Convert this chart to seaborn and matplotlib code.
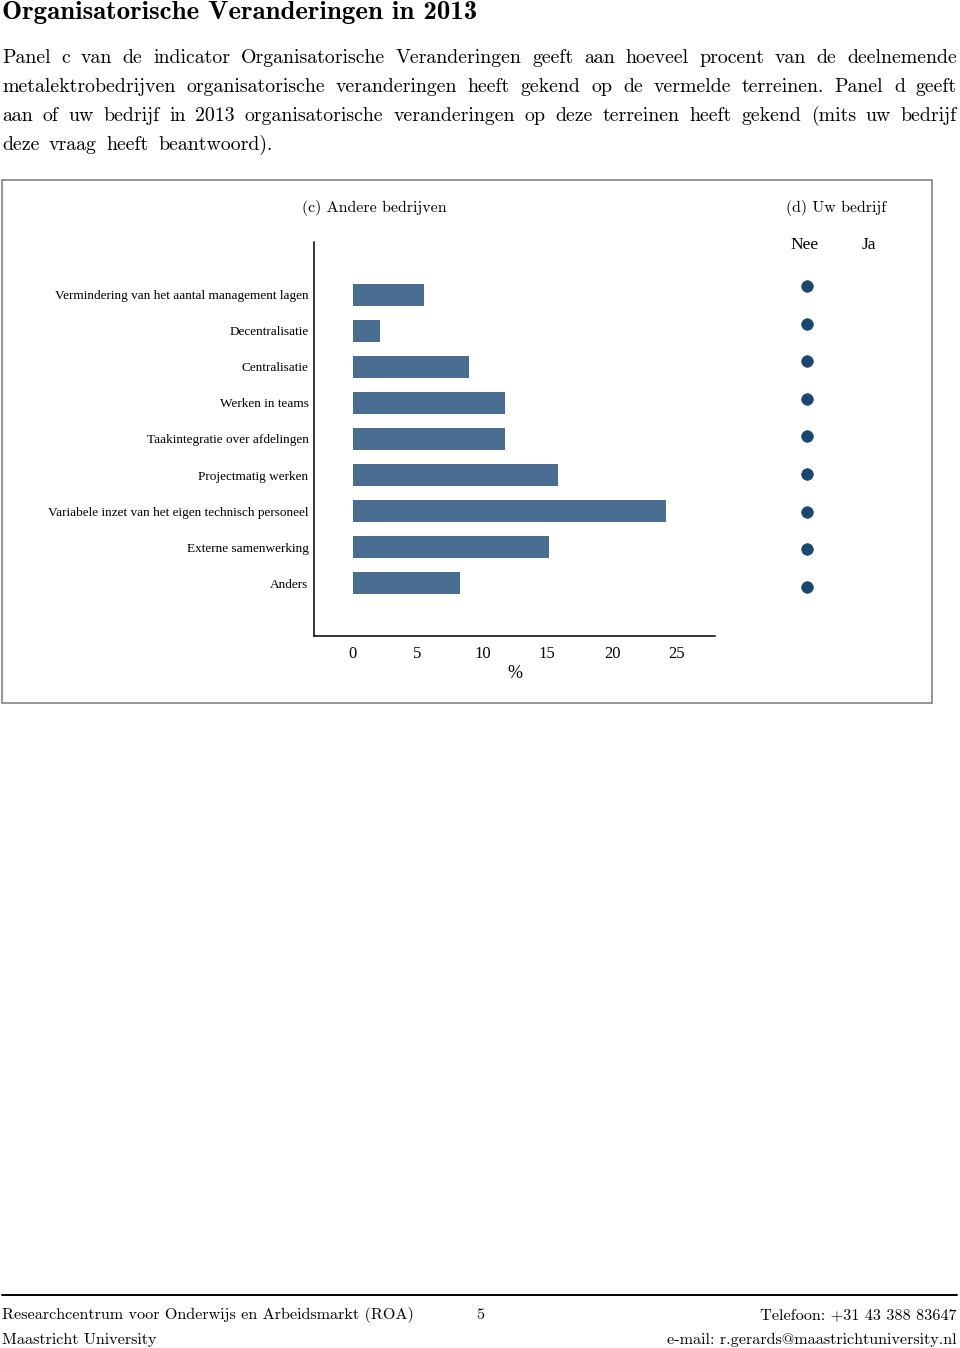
import matplotlib
matplotlib.use("Agg")
import matplotlib.pyplot as plt
import seaborn as sns
import pandas as pd
from matplotlib.patches import Rectangle
from matplotlib.lines import Line2D

# ---------------- data ----------------
categories = [
    "Vermindering van het aantal management lagen",
    "Decentralisatie",
    "Centralisatie",
    "Werken in teams",
    "Taakintegratie over afdelingen",
    "Projectmatig werken",
    "Variabele inzet van het eigen technisch personeel",
    "Externe samenwerking",
    "Anders",
]
percent_other = [5.52, 2.07, 8.97, 11.72, 11.72, 15.86, 24.14, 15.17, 8.28]
own_answer = ["Nee"] * 9
answer_levels = ["Nee", "Ja"]
x_ticks = [0, 5, 10, 15, 20, 25]

title = "Organisatorische Veranderingen in 2013"
paragraph_lines = [
    "Panel c van de indicator Organisatorische Veranderingen geeft aan hoeveel procent van de deelnemende",
    "metalektrobedrijven organisatorische veranderingen heeft gekend op de vermelde terreinen.  Panel d geeft",
    "aan of uw bedrijf in 2013 organisatorische veranderingen op deze terreinen heeft gekend (mits uw bedrijf",
    "deze vraag heeft beantwoord).",
]
footer_left = ["Researchcentrum voor Onderwijs en Arbeidsmarkt (ROA)", "Maastricht University"]
footer_right = ["Telefoon: +31 43 388 83647", "e-mail: r.gerards@maastrichtuniversity.nl"]
page_number = "5"

# ---------------- style ----------------
sns.set_style("white")
plt.rcParams["font.family"] = ["Liberation Serif", "DejaVu Serif"]
plt.rcParams["axes.unicode_minus"] = False
plt.rcParams["text.color"] = "black"
plt.rcParams["axes.labelcolor"] = "black"
plt.rcParams["xtick.color"] = "black"
plt.rcParams["ytick.color"] = "black"

W, H = 960, 1348
fig = plt.figure(figsize=(W / 100, H / 100), dpi=100)

def fx(x):
    return x / W

def fy(y):
    return 1 - y / H

CM = ["cmr10", "DejaVu Serif"]
CMB = ["cmb10", "DejaVu Serif"]

bar_color = "#4a6d92"
dot_color = "#1a476f"

# ---------------- header text ----------------
fig.text(fx(2), fy(19), title, family=CMB, fontsize=19.4, va="baseline", ha="left")

renderer = fig.canvas.get_renderer()
para_fs = 14.3
baselines = [63, 92, 121, 150]
left_px, right_px = 2, 957
sp = fig.text(0, 0, "a a", family=CM, fontsize=para_fs)
sp2 = fig.text(0, 0, "aa", family=CM, fontsize=para_fs)
space_w = sp.get_window_extent(renderer).width - sp2.get_window_extent(renderer).width
sp.remove(); sp2.remove()
for i, line in enumerate(paragraph_lines):
    words = line.split()
    texts = [fig.text(0, fy(baselines[i]), w, family=CM, fontsize=para_fs,
                      va="baseline", ha="left") for w in words]
    widths = [t.get_window_extent(renderer).width for t in texts]
    if i < len(paragraph_lines) - 1:
        gap = (right_px - left_px - sum(widths)) / (len(words) - 1)
    else:
        gap = space_w + 3
    x = left_px
    for t, w in zip(texts, widths):
        t.set_x(fx(x))
        x += w + gap

# ---------------- frame ----------------
fig.patches.append(Rectangle((fx(2), fy(703)), fx(930), (703 - 180) / H,
                             transform=fig.transFigure, fill=False,
                             edgecolor="#8c8c8c", linewidth=1.3))

# ---------------- panel c ----------------
df = pd.DataFrame({"categorie": categories, "procent": percent_other})
ax = fig.add_axes([fx(314), fy(636), fx(715 - 314), (636 - 242) / H])
sns.barplot(data=df, x="procent", y="categorie", orient="h", color=bar_color,
            saturation=1, width=0.6, ax=ax, linewidth=0)
ax.set_xlim(-2.98, 27.93)
ax.set_ylim(9.47, -1.47)
ax.set_xticks(x_ticks)
ax.set_xticklabels([str(t) for t in x_ticks], fontsize=12)
ax.set_xlabel("%", fontsize=13, labelpad=2)
ax.set_ylabel("")
ax.tick_params(axis="x", length=4, width=1, direction="out", pad=3.5, colors="black")
ax.tick_params(axis="y", length=0, pad=4, labelsize=9.5, colors="black")
for s in ["top", "right"]:
    ax.spines[s].set_visible(False)
for s in ["left", "bottom"]:
    ax.spines[s].set_color("black")
    ax.spines[s].set_linewidth(1.1)
ax.grid(False)
ax.set_facecolor("none")
fig.text(fx(374), fy(208), "(c) Andere bedrijven", family=CM, fontsize=11.5,
         ha="center", va="center")

# ---------------- panel d ----------------
dd = pd.DataFrame({"categorie": categories, "antwoord": own_answer})
dd["xpos"] = dd["antwoord"].map({lvl: i for i, lvl in enumerate(answer_levels)})
dd["ypos"] = range(len(categories))
ax2 = fig.add_axes([fx(760), fy(636), fx(160), (636 - 242) / H])
sns.scatterplot(data=dd, x="xpos", y="ypos", color=dot_color, s=70,
                edgecolor=dot_color, linewidth=0.5, ax=ax2, legend=False)
ax2.set_xlim(-0.744, 1.816)
ax2.set_ylim(9.31, -1.17)
ax2.axis("off")
label_x = [-0.03, 1.0]
for i, lvl in enumerate(answer_levels):
    ax2.text(label_x[i], -1.09, lvl, ha="center", va="center", fontsize=12.5)
fig.text(fx(836), fy(208), "(d) Uw bedrijf", family=CM, fontsize=11.5,
         ha="center", va="center")

# ---------------- footer ----------------
fig.add_artist(Line2D([fx(2), fx(957)], [fy(1295), fy(1295)], transform=fig.transFigure,
                      color="black", linewidth=1.4))
foot_fs = 11.65
fig.text(fx(2), fy(1315), footer_left[0], family=CM, fontsize=foot_fs, va="center", ha="left")
fig.text(fx(2), fy(1340), footer_left[1], family=CM, fontsize=foot_fs, va="center", ha="left")
fig.text(fx(480), fy(1315), page_number, family=CM, fontsize=foot_fs, va="center", ha="center")
fig.text(fx(957), fy(1315), footer_right[0], family=CM, fontsize=foot_fs, va="center", ha="right")
fig.text(fx(957), fy(1340), footer_right[1], family=CM, fontsize=foot_fs, va="center", ha="right")

fig.savefig("out.png", dpi=100, facecolor="white")
